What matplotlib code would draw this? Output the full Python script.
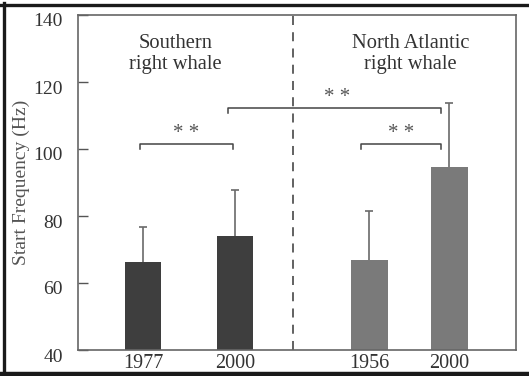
import matplotlib.pyplot as plt
import matplotlib.transforms as mtransforms
from matplotlib.lines import Line2D

plt.rcParams['font.family'] = ['Liberation Serif', 'DejaVu Serif']

years = ['1977', '2000', '1956', '2000']
means = [66.3, 74.1, 67.0, 94.7]
sd_up = [10.4, 13.6, 14.6, 18.9]
colors = ['#3e3e3e', '#3e3e3e', '#7a7a7a', '#7a7a7a']
xpos = [1.0, 2.0, 3.46, 4.33]

fig = plt.figure(figsize=(5.29, 3.76), dpi=100)
ax = fig.add_axes([78 / 529, 1 - 350 / 376, (516 - 78) / 529, (350 - 15) / 376])

ax.bar(xpos, means, width=0.4, bottom=0, color=colors, zorder=2)
eb = ax.errorbar(xpos, means, yerr=[[0] * 4, sd_up], fmt='none', ecolor='#6a6a6a',
                 elinewidth=1.2, capsize=3, capthick=1.2, zorder=1)
eb[1][0].set_visible(False)  # no lower caps

ax.set_xlim(0.293, 5.054)
ax.set_ylim(40, 140)
ax.set_yticks([40, 60, 80, 100, 120, 140])
ax.set_xticks(xpos)
ax.set_xticklabels(years)
ax.tick_params(axis='x', length=0, labelsize=14.5, colors='#333333', pad=3)
ax.tick_params(axis='y', direction='in', length=7, width=1, labelsize=14,
               colors='#555555', labelcolor='#333333', pad=11)
# y tick labels sit a little below their ticks in the original
shift = mtransforms.ScaledTranslation(0, -5 / 100, fig.dpi_scale_trans)
for lab in ax.get_yticklabels():
    lab.set_transform(lab.get_transform() + shift)
for s in ax.spines.values():
    s.set_color('#666666')
    s.set_linewidth(1.2)

ax.set_ylabel('Start Frequency (Hz)', fontsize=14, color='#555555', labelpad=2)

# divider
ax.axvline(2.63, color='#555555', linestyle=(0, (5, 4)), linewidth=1.3)

# group titles
ax.text(1.35, 128.4, 'Southern\nright whale', ha='center', va='center',
        fontsize=14.8, color='#333333', linespacing=1.1)
ax.text(3.91, 128.4, 'North Atlantic\nright whale', ha='center', va='center',
        fontsize=14.8, color='#333333', linespacing=1.1)

# significance brackets
def bracket(x0, x1, y, drop=1.6, tx=None):
    ax.plot([x0, x0, x1, x1], [y - drop, y, y, y - drop], color='#444444', lw=1.1)
    if tx is None:
        tx = (x0 + x1) / 2
    ax.text(tx, y + 0.3, '* *', ha='center', va='bottom', fontsize=15, color='#555555')

bracket(0.967, 1.978, 101.5)
bracket(1.924, 4.24, 112.2, tx=3.11)
bracket(3.37, 4.24, 101.5)

# black frame lines around the image
fig.add_artist(Line2D([0, 1], [1 - 4.5 / 376] * 2, transform=fig.transFigure,
                      color='#1a1a1a', lw=2.4))
fig.add_artist(Line2D([4 / 529] * 2, [0, 1 - 3 / 376], transform=fig.transFigure,
                      color='#1a1a1a', lw=2.4))
fig.add_artist(Line2D([0, 1], [2.5 / 376] * 2, transform=fig.transFigure,
                      color='#1a1a1a', lw=3.2))

fig.savefig('out.png', dpi=100)
